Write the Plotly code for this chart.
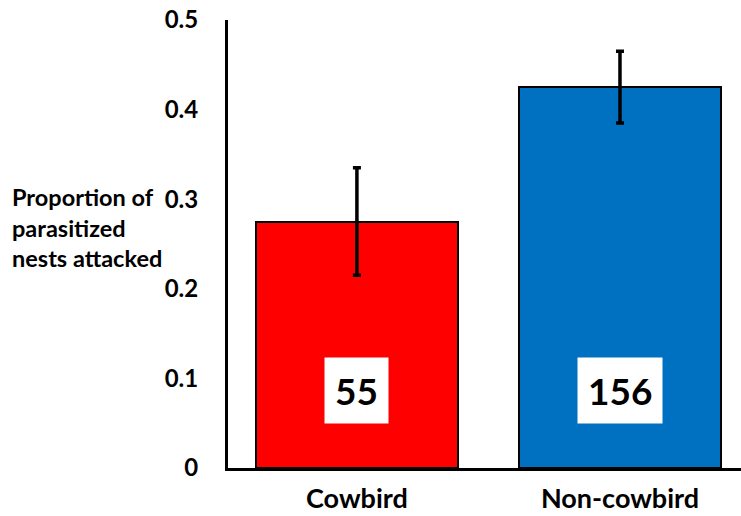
import plotly.graph_objects as go

# Nest predation data
categories = ["Cowbird", "Non-cowbird"]
proportion_attacked = [0.275, 0.425]
error_margin = [0.06, 0.04]
sample_sizes = [55, 156]
bar_colors = ["#ff0000", "#0070c0"]

FONT = "Lato"

fig = go.Figure()
fig.add_trace(go.Bar(
    x=list(range(len(categories))),
    y=proportion_attacked,
    width=0.77,
    marker=dict(color=bar_colors, line=dict(color="black", width=2)),
    error_y=dict(type="data", array=error_margin, color="black",
                 thickness=3.5, width=4),
))

# sample-size labels in white boxes
for i, n in enumerate(sample_sizes):
    fig.add_annotation(
        x=i, y=0.087, xref="x", yref="y", text=f"<b>{n}</b>",
        showarrow=False, bgcolor="white",
        font=dict(family=FONT, size=37, color="black"),
        borderpad=10,
    )

fig.add_annotation(
    x=-0.425, y=0.536, xref="paper", yref="paper",
    text="<b>Proportion of<br>parasitized<br>nests attacked</b>",
    showarrow=False, xanchor="left", yanchor="middle", align="left",
    font=dict(family=FONT, size=23.5, color="black"),
)

fig.update_layout(
    width=741, height=516,
    margin=dict(l=228, r=0, t=20, b=48),
    paper_bgcolor="white", plot_bgcolor="white",
    showlegend=False,
    bargap=0,
)
fig.update_xaxes(
    range=[-0.49, 1.46],
    tickmode="array", tickvals=list(range(len(categories))),
    ticktext=[f"<b>{c}</b>" for c in categories],
    tickfont=dict(family=FONT, size=27, color="black"),
    ticks="outside", ticklen=5, tickcolor="rgba(0,0,0,0)",
    showline=True, linecolor="black", linewidth=3,
    showgrid=False, zeroline=False, fixedrange=True, automargin=False,
)
fig.update_yaxes(
    range=[0, 0.5],
    tickmode="array", tickvals=[0, 0.1, 0.2, 0.3, 0.4, 0.5],
    ticktext=["<b>0</b>", "<b>0.1</b>", "<b>0.2</b>", "<b>0.3</b>", "<b>0.4</b>", "<b>0.5</b>"],
    tickfont=dict(family=FONT, size=24, color="black"),
    ticks="outside", ticklen=22, tickcolor="rgba(0,0,0,0)",
    showline=True, linecolor="black", linewidth=3,
    showgrid=False, zeroline=False, fixedrange=True, automargin=False,
)

fig.write_html("out.html")
